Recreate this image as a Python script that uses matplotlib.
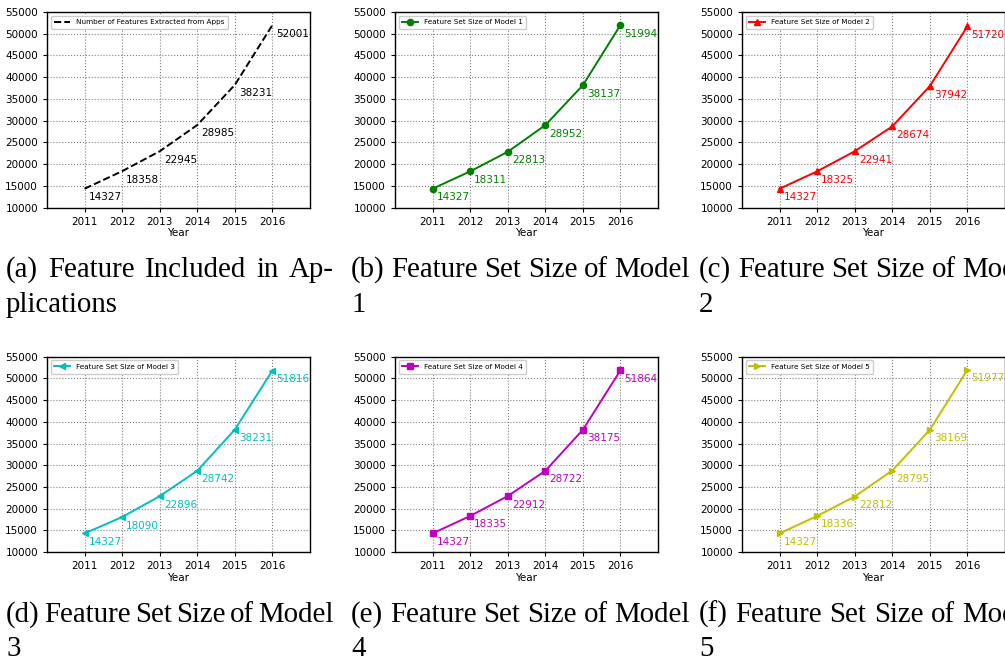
import matplotlib
matplotlib.use("Agg")
import matplotlib.pyplot as plt

years = [2011, 2012, 2013, 2014, 2015, 2016]
apps_features = [14327, 18358, 22945, 28985, 38231, 52001]
model1 = [14327, 18311, 22813, 28952, 38137, 51994]
model2 = [14327, 18325, 22941, 28674, 37942, 51720]
model3 = [14327, 18090, 22896, 28742, 38231, 51816]
model4 = [14327, 18335, 22912, 28722, 38175, 51864]
model5 = [14327, 18336, 22812, 28795, 38169, 51977]

series = [apps_features, model1, model2, model3, model4, model5]
labels = ["Number of Features Extracted from Apps",
          "Feature Set Size of Model 1", "Feature Set Size of Model 2",
          "Feature Set Size of Model 3", "Feature Set Size of Model 4",
          "Feature Set Size of Model 5"]
colors = ["k", "g", "r", "c", "m", "y"]
markers = [None, "o", "^", "<", "s", ">"]
styles = ["--", "-", "-", "-", "-", "-"]
captions = [["(a) Feature Included in Ap-", "plications"],
            ["(b) Feature Set Size of Model", "1"],
            ["(c) Feature Set Size of Model", "2"],
            ["(d) Feature Set Size of Model", "3"],
            ["(e) Feature Set Size of Model", "4"],
            ["(f) Feature Set Size of Model", "5"]]

W, H = 1005, 662
fig = plt.figure(figsize=(W / 100, H / 100), dpi=100)

# panel geometry in pixels
lefts = [47, 395, 742]
tops = [12, 356.7]
ax_w, ax_h = 263, 195.5
cap_x = [6, 351, 699]
cap_right = [334, 690, 1038]
base1 = [277, 621.7]
base2 = [312, 656.5]

cap_font = dict(family="Liberation Serif", size=20.8, color="black")


def put_line(x0, x1, y, text):
    # spread words between x0 and x1 like a justified LaTeX caption
    words = text.split(" ")
    ts = [fig.text(0, 1 - y / H, w, va="baseline", ha="left", **cap_font) for w in words]
    if len(ts) == 1:
        ts[0].set_x(x0 / W)
        return
    r = fig.canvas.get_renderer()
    widths = [t.get_window_extent(r).width for t in ts]
    gap = (x1 - x0 - sum(widths)) / (len(ts) - 1)
    x = x0
    for t, w in zip(ts, widths):
        t.set_x(x / W)
        x += w + gap


for i in range(6):
    row, col = divmod(i, 3)
    ax = fig.add_axes([lefts[col] / W, 1 - (tops[row] + ax_h) / H, ax_w / W, ax_h / H])
    vals = series[i]
    ax.plot(years, vals, color=colors[i], linestyle=styles[i], marker=markers[i],
            markersize=4.5, linewidth=1.4, label=labels[i])
    for x, v in zip(years, vals):
        ax.annotate(str(v), (x, v), xytext=(3, -2.5), textcoords="offset points",
                    ha="left", va="top", fontsize=7.5, color=colors[i])
    ax.set_xlim(2010, 2017)
    ax.set_ylim(10000, 55000)
    ax.set_xticks(years)
    ax.set_yticks(range(10000, 55001, 5000))
    ax.tick_params(labelsize=7.5, length=3, width=0.8)
    ax.set_xlabel("Year", fontsize=7.5, labelpad=1)
    ax.grid(True, linestyle=":", color="gray", linewidth=0.8)
    for s in ax.spines.values():
        s.set_linewidth(1.0)
    ax.legend(loc="upper left", fontsize=5.2, framealpha=1, edgecolor="#cccccc",
              borderpad=0.5, handlelength=2.2)

    put_line(cap_x[col], cap_right[col], base1[row], captions[i][0])
    put_line(cap_x[col], cap_right[col], base2[row], captions[i][1])

fig.savefig("out.png", dpi=100)
